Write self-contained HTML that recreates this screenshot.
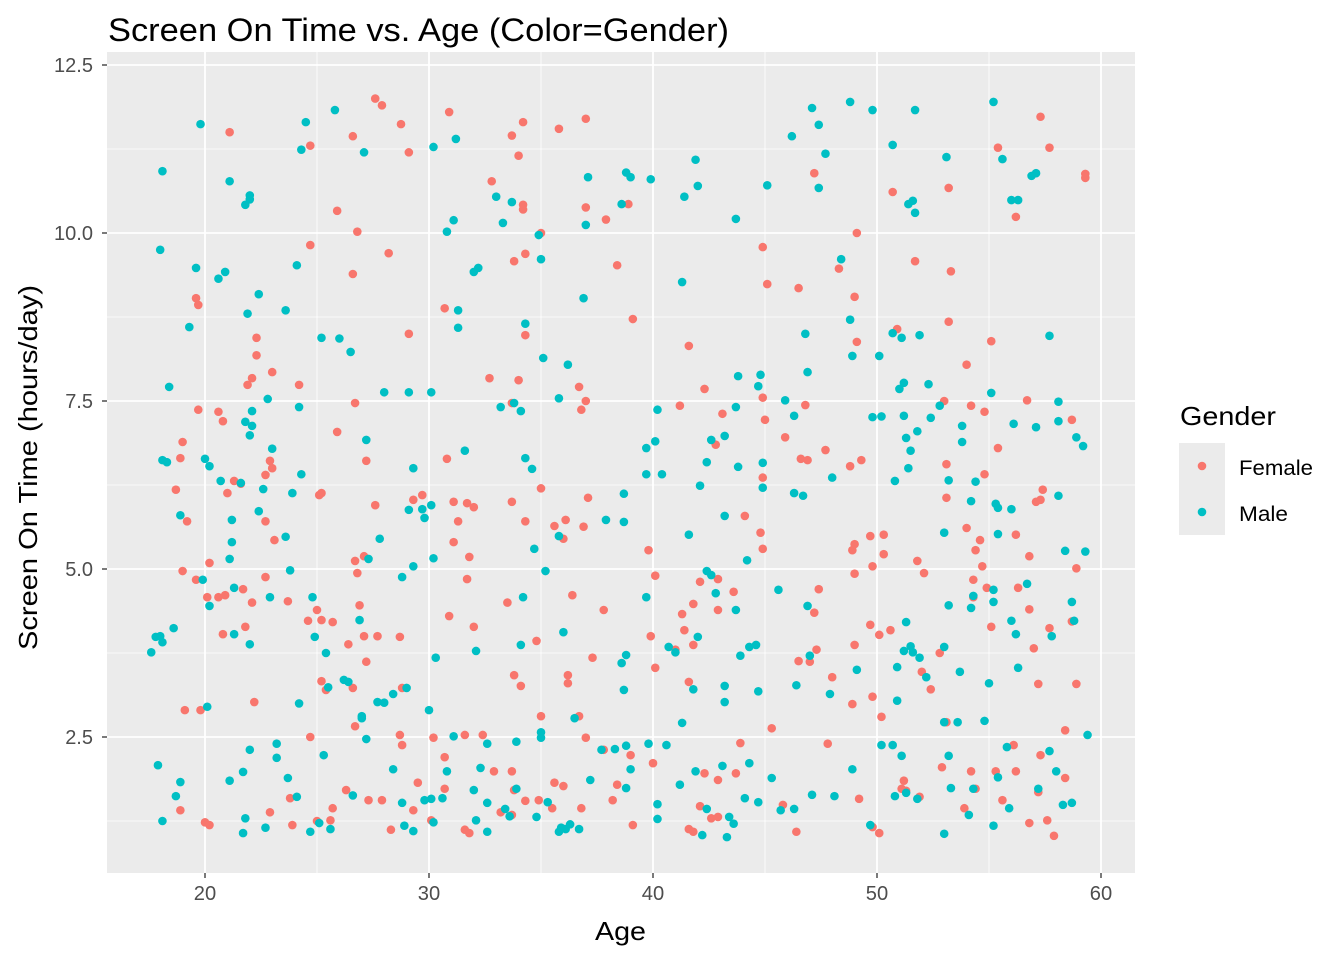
<!DOCTYPE html>
<html><head><meta charset="utf-8"><style>
html,body{margin:0;padding:0;background:#fff;}
svg{display:block;font-family:"Liberation Sans",Arial,sans-serif;}
</style></head><body>
<svg id="chart" width="1344" height="960" viewBox="0 0 1344 960" xmlns="http://www.w3.org/2000/svg">
<rect x="0" y="0" width="1344" height="960" fill="#fff"/>
<text x="108" y="41" font-size="32" textLength="621" lengthAdjust="spacingAndGlyphs" fill="#000">Screen On Time vs. Age (Color=Gender)</text>
<rect x="107" y="52" width="1028" height="821" fill="#EBEBEB"/>
<g id="grid"></g>
<g id="points"></g>
<g id="axes"></g>
<text x="595" y="940" font-size="26" textLength="51" lengthAdjust="spacingAndGlyphs" fill="#000">Age</text>
<text transform="translate(37,650) rotate(-90)" font-size="26" textLength="365" lengthAdjust="spacingAndGlyphs" fill="#000">Screen On Time (hours/day)</text>
<g>
<text x="1180" y="425" font-size="26" textLength="96" lengthAdjust="spacingAndGlyphs" fill="#000">Gender</text>
<rect x="1179" y="443" width="46" height="46" fill="#EBEBEB"/>
<rect x="1179" y="489" width="46" height="46" fill="#EBEBEB"/>
<circle cx="1202" cy="466" r="4.3" fill="#F8766D"/>
<circle cx="1202" cy="512" r="4.3" fill="#00BFC4"/>
<text x="1239" y="475" font-size="21" textLength="74" lengthAdjust="spacingAndGlyphs" fill="#000">Female</text>
<text x="1239" y="521" font-size="21" textLength="49" lengthAdjust="spacingAndGlyphs" fill="#000">Male</text>
</g>
</svg>
<script>
const xTicks=[20,30,40,50,60];
const yTicks=[2.5,5.0,7.5,10.0,12.5];
const xTickLabels=["20","30","40","50","60"];
const yTickLabels=["2.5","5.0","7.5","10.0","12.5"];
const femalePoints=[[27.6,12.0],[27.9,11.9],[28.75,11.62],[26.6,11.44],[29.1,11.2],[24.7,11.3],[21.1,11.5],[30.9,11.8],[34.2,11.65],[33.7,11.45],[34.0,11.15],[35.8,11.55],[37.0,11.7],[32.8,10.77],[34.2,10.42],[34.2,10.35],[25.9,10.33],[26.8,10.02],[37.0,10.38],[37.9,10.2],[38.9,10.43],[35.0,10.0],[34.3,9.69],[33.8,9.58],[28.2,9.7],[24.7,9.82],[26.6,9.39],[38.4,9.52],[19.6,9.03],[19.7,8.93],[30.7,8.88],[29.1,8.5],[34.3,8.48],[39.1,8.72],[22.3,8.44],[22.3,8.18],[22.1,7.84],[21.9,7.74],[23.0,7.93],[24.2,7.74],[32.7,7.84],[34.0,7.81],[33.7,7.47],[36.7,7.71],[37.0,7.5],[36.8,7.37],[26.7,7.47],[19.7,7.37],[20.6,7.34],[20.8,7.2],[19.0,6.89],[18.9,6.65],[25.9,7.04],[27.2,6.61],[22.9,6.61],[22.7,6.4],[23.0,6.5],[30.8,6.64],[29.3,6.03],[29.7,6.1],[27.6,5.95],[25.1,6.1],[25.2,6.13],[21.0,6.13],[21.3,6.31],[21.6,6.27],[18.7,6.18],[19.2,5.71],[31.1,6.0],[31.7,5.98],[32.0,5.92],[33.7,6.0],[35.0,6.2],[34.3,5.71],[35.6,5.64],[36.1,5.73],[36.0,5.45],[36.9,5.63],[37.1,6.06],[31.3,5.71],[31.1,5.4],[31.8,5.18],[22.7,5.71],[23.1,5.43],[20.6,4.58],[20.9,4.61],[20.2,5.09],[19.0,4.97],[19.6,4.84],[20.1,4.58],[21.7,4.7],[22.1,4.5],[21.8,4.14],[20.8,4.03],[22.7,4.88],[26.7,5.12],[27.1,5.19],[26.8,4.94],[26.9,4.46],[26.4,3.88],[25.0,4.39],[24.6,4.23],[25.2,4.24],[25.7,4.21],[23.7,4.52],[27.1,4.0],[27.7,4.0],[28.7,3.99],[27.2,3.62],[31.7,4.85],[32.0,4.14],[30.9,4.3],[34.8,3.93],[33.5,4.5],[34.1,3.26],[33.8,3.42],[36.4,4.61],[36.2,3.42],[36.2,3.3],[37.3,3.68],[37.8,4.39],[39.8,5.28],[40.1,4.9],[39.9,4.0],[40.1,3.53],[41.0,3.8],[41.3,4.33],[42.1,4.81],[41.8,4.48],[41.8,3.87],[41.4,4.09],[41.6,3.32],[42.9,4.39],[42.9,4.85],[41.6,8.32],[41.2,7.43],[42.3,7.68],[42.8,6.85],[43.1,7.31],[44.1,5.79],[43.6,4.66],[44.9,6.36],[44.9,5.3],[45.0,7.22],[44.9,7.55],[44.9,9.79],[45.1,9.24],[44.8,5.54],[45.9,6.96],[46.6,6.64],[46.8,7.44],[46.5,9.18],[47.2,10.89],[47.4,4.7],[47.2,4.35],[47.3,3.8],[47.0,3.62],[46.9,6.62],[47.7,6.77],[48.0,3.39],[48.3,9.47],[48.8,6.53],[49.0,9.05],[49.1,10.0],[49.3,6.62],[49.1,8.38],[48.9,5.28],[49.0,5.37],[49.0,4.93],[49.0,3.87],[48.9,2.99],[49.7,5.49],[49.8,5.04],[49.7,4.17],[50.1,4.02],[49.8,3.1],[50.2,2.8],[50.3,5.51],[50.3,5.22],[50.7,10.61],[50.9,8.57],[50.6,4.09],[51.7,9.58],[51.8,5.12],[52.1,4.94],[52.0,3.47],[53.2,10.67],[53.3,9.43],[53.2,8.68],[53.0,7.5],[53.1,6.56],[53.1,6.06],[52.8,3.75],[52.4,3.21],[53.1,2.72],[54.0,8.04],[54.0,5.61],[54.2,7.43],[54.4,5.28],[54.3,4.84],[54.3,4.58],[54.8,7.34],[54.8,6.41],[54.6,5.43],[54.7,5.04],[54.9,4.72],[55.1,8.39],[55.4,6.8],[55.1,4.14],[55.4,11.27],[56.2,10.24],[56.2,5.51],[56.7,7.51],[56.8,5.19],[56.8,4.4],[56.3,4.72],[57.0,3.82],[57.3,11.73],[57.7,11.27],[57.1,6.0],[57.3,6.03],[57.4,6.18],[57.2,3.29],[57.7,4.12],[58.9,5.01],[58.7,7.22],[59.3,10.88],[59.3,10.82],[58.9,3.29],[58.7,4.22],
[19.1,2.9],[19.8,2.9],[20.0,1.23],[20.2,1.19],[18.9,1.41],[22.2,3.02],[22.9,1.38],[23.8,1.59],[23.9,1.19],[24.7,2.5],[25.0,1.25],[25.2,3.33],[25.4,3.2],[25.6,1.26],[25.7,1.44],[26.3,1.71],[26.6,3.23],[26.7,2.66],[27.3,1.56],[27.9,1.56],[28.3,1.12],[28.7,2.53],[28.8,2.38],[28.8,3.23],[29.3,1.41],[29.5,1.82],[30.1,1.26],[30.2,2.49],[30.7,2.2],[30.7,1.73],[31.6,1.12],[31.8,1.07],[31.6,2.53],[32.4,2.53],[32.9,1.99],[33.2,1.38],[33.7,1.99],[33.7,1.34],[33.8,1.71],[34.3,1.55],[34.9,1.56],[35.0,2.81],[35.6,1.82],[36.0,1.77],[35.5,1.44],[36.8,1.44],[36.7,2.81],[37.0,2.49],[37.8,2.31],[38.2,1.56],[38.4,1.79],[39.0,2.23],[39.1,1.19],[40.0,2.11],[41.6,1.13],[41.8,1.09],[42.1,1.47],[42.3,1.96],[42.6,1.29],[42.9,1.86],[42.9,1.31],[43.7,1.96],[43.9,2.41],[45.3,2.63],[45.8,1.49],[46.4,1.09],[46.5,3.63],[47.8,2.4],[49.2,1.58],[49.8,1.16],[50.1,1.07],[51.2,1.85],[51.1,1.73],[51.3,1.7],[51.9,1.61],[52.9,2.05],[53.9,1.44],[54.2,1.99],[54.4,1.73],[55.3,1.99],[55.6,1.56],[56.2,1.99],[56.1,2.38],[56.8,1.22],[57.3,2.23],[57.2,1.68],[57.6,1.26],[57.9,1.03],[58.4,2.6],[58.4,1.89]];
const malePoints=[[19.8,11.62],[18.1,10.92],[24.5,11.65],[25.8,11.83],[27.1,11.2],[30.2,11.28],[31.2,11.4],[21.1,10.77],[22.0,10.56],[22.0,10.5],[21.8,10.42],[24.3,11.24],[18.0,9.75],[19.6,9.48],[20.9,9.42],[20.6,9.32],[22.4,9.09],[24.1,9.52],[21.9,8.8],[19.3,8.6],[23.6,8.85],[25.2,8.44],[26.0,8.43],[26.5,8.23],[31.3,8.85],[31.3,8.59],[30.8,10.02],[31.1,10.19],[32.0,9.42],[32.2,9.48],[33.0,10.54],[33.3,10.15],[33.7,10.46],[34.9,9.97],[35.0,9.61],[34.3,8.65],[35.1,8.14],[37.0,10.12],[37.1,10.83],[36.9,9.03],[38.6,10.43],[38.8,10.9],[39.0,10.83],[39.9,10.8],[41.9,11.09],[41.4,10.54],[42.0,10.7],[41.3,9.27],[43.7,10.21],[45.1,10.71],[46.2,11.44],[47.1,11.86],[47.4,11.61],[47.4,10.67],[47.7,11.18],[48.4,9.61],[48.8,11.95],[49.8,11.83],[50.7,11.31],[51.7,11.83],[51.4,10.43],[51.6,10.48],[51.7,10.3],[53.1,11.13],[55.2,11.95],[55.6,11.1],[56.0,10.49],[56.3,10.49],[56.9,10.85],[57.1,10.89],[57.7,8.47],[48.8,8.71],[48.9,8.17],[50.1,8.17],[46.8,8.5],[46.9,7.93],[50.7,8.51],[51.1,8.44],[51.9,8.48],[18.4,7.71],[18.1,6.62],[18.3,6.59],[18.9,5.8],[20.0,6.64],[20.2,6.53],[20.7,6.31],[21.2,5.73],[21.6,6.28],[21.8,7.19],[22.1,7.35],[22.0,6.99],[22.1,7.13],[22.4,5.86],[22.8,7.53],[23.0,6.79],[22.6,6.19],[23.6,5.48],[24.3,6.41],[23.9,6.13],[24.2,7.41],[27.2,6.92],[28.0,7.63],[29.1,7.63],[30.1,7.63],[29.3,6.5],[29.1,5.88],[29.7,5.89],[29.8,5.76],[30.1,5.95],[27.8,5.45],[27.3,5.15],[29.3,5.04],[28.8,4.88],[30.2,5.16],[31.6,6.76],[33.2,7.41],[33.8,7.47],[34.1,7.35],[34.3,6.65],[34.6,6.49],[34.7,5.3],[35.2,4.97],[36.2,8.04],[35.8,7.54],[35.8,5.49],[37.9,5.73],[38.7,5.7],[39.7,6.8],[40.1,6.9],[40.2,7.37],[39.7,6.41],[40.4,6.41],[38.7,6.12],[41.6,5.51],[42.1,6.24],[42.4,6.59],[42.6,6.92],[43.2,6.98],[43.2,5.79],[43.7,7.41],[43.8,7.87],[43.8,6.52],[44.8,7.89],[44.7,7.72],[44.9,6.58],[44.9,6.21],[45.9,7.51],[46.3,7.28],[46.3,6.13],[46.7,6.09],[48.0,6.36],[49.8,7.26],[50.2,7.27],[50.8,6.31],[51.0,7.68],[51.2,7.77],[51.2,7.28],[51.3,6.95],[51.4,6.5],[51.5,6.76],[51.8,7.05],[52.3,7.75],[52.4,7.25],[52.8,7.43],[53.2,6.32],[53.8,7.13],[53.8,6.89],[54.2,6.01],[54.4,6.3],[55.3,5.97],[55.4,5.91],[55.4,5.52],[55.1,7.62],[56.1,7.16],[56.0,5.89],[57.1,7.11],[58.1,7.49],[58.1,7.2],[58.1,6.09],[58.9,6.96],[59.2,6.83],[59.3,5.26],
[17.6,3.76],[17.8,3.99],[18.0,4.0],[18.1,3.91],[18.6,4.12],[19.9,4.84],[20.2,4.45],[21.1,5.15],[21.2,5.4],[21.3,4.72],[21.3,4.03],[22.0,3.88],[22.9,4.58],[23.8,4.98],[24.8,4.58],[24.9,3.99],[25.4,3.75],[26.2,3.35],[26.4,3.32],[26.9,4.24],[27.0,2.78],[27.7,3.02],[28.0,3.01],[28.4,3.14],[29.0,3.23],[30.3,3.68],[32.1,3.78],[34.1,3.87],[34.2,4.58],[36.0,4.06],[36.5,2.78],[38.8,3.72],[38.7,3.2],[38.6,3.6],[39.7,4.58],[40.7,3.84],[41.0,3.76],[41.8,3.21],[42.0,3.99],[42.4,4.97],[42.6,4.91],[42.8,4.64],[43.2,3.26],[43.2,3.02],[43.7,4.39],[43.9,3.71],[44.2,5.13],[44.3,3.84],[44.6,3.87],[44.7,3.18],[45.6,4.69],[46.4,3.27],[46.9,4.45],[47.0,3.71],[47.9,3.14],[49.1,3.5],[50.9,3.54],[50.9,3.04],[51.2,3.78],[51.3,4.21],[51.5,3.85],[51.6,3.76],[51.9,3.68],[52.2,3.39],[53.0,5.54],[53.0,3.84],[53.0,2.72],[53.2,4.46],[53.7,3.47],[53.6,2.72],[54.2,4.42],[54.3,4.6],[54.8,2.74],[55.0,3.3],[55.2,4.69],[55.2,4.51],[56.0,4.23],[56.2,4.03],[56.3,3.53],[56.7,4.78],[57.8,4.0],[58.4,5.27],[58.7,4.51],[58.8,4.23],[59.4,2.53],
[17.9,2.08],[18.1,1.25],[18.7,1.62],[18.9,1.83],[20.1,2.95],[21.1,1.85],[21.7,1.98],[21.7,1.07],[21.8,1.29],[22.0,2.31],[22.7,1.15],[23.2,2.4],[23.2,2.19],[23.7,1.89],[24.1,1.61],[24.2,3.0],[24.7,1.09],[25.1,1.22],[25.3,2.23],[25.5,3.24],[25.6,1.13],[26.6,1.63],[27.0,2.81],[27.2,2.47],[28.4,2.02],[28.8,1.52],[28.9,1.18],[29.3,1.1],[30.0,2.9],[29.8,1.56],[30.1,1.58],[30.2,1.23],[30.6,1.59],[30.8,1.99],[31.1,2.51],[32.0,1.71],[32.1,1.26],[32.3,2.04],[32.6,1.52],[32.6,2.4],[32.6,1.09],[33.4,1.43],[33.6,1.32],[33.9,2.43],[33.9,1.73],[34.8,1.31],[35.0,2.49],[35.0,2.57],[35.3,1.53],[35.8,1.09],[35.9,1.15],[36.1,1.13],[36.3,1.2],[36.7,1.13],[37.2,1.86],[37.7,2.31],[38.3,2.32],[38.8,2.37],[38.8,1.74],[39.0,2.02],[39.8,2.4],[40.2,1.28],[40.2,1.5],[40.6,2.38],[41.2,1.79],[41.3,2.71],[41.9,1.99],[42.2,1.04],[42.4,1.43],[43.1,2.07],[43.3,1.01],[43.4,1.31],[43.6,1.21],[44.1,1.59],[44.3,2.11],[44.7,1.53],[45.3,1.89],[45.7,1.41],[46.3,1.43],[47.1,1.64],[48.1,1.62],[48.9,2.02],[49.7,1.19],[50.2,2.38],[50.7,2.38],[50.8,1.62],[51.1,2.22],[51.3,1.67],[51.8,1.58],[53.2,2.22],[53.0,1.06],[53.3,1.74],[54.1,1.34],[54.3,1.73],[55.2,1.18],[55.4,1.9],[55.8,2.35],[55.9,1.44],[57.2,1.73],[57.7,2.29],[58.0,1.99],[58.3,1.49],[58.7,1.52]];

const NS="http://www.w3.org/2000/svg";
const X0=107,X1=1135,Y0=52,Y1=873;
function xScale(a){return 205+(a-20)*22.4;}
function yScale(v){return 737-(v-2.5)*67.2;}
function mk(tag,attrs,parent){const e=document.createElementNS(NS,tag);for(const k in attrs)e.setAttribute(k,attrs[k]);parent.appendChild(e);return e;}
const grid=document.getElementById('grid');
const axes=document.getElementById('axes');
const pts=document.getElementById('points');
for(let i=0;i<xTicks.length+1;i++){
  const a=(i===0?xTicks[0]-5:xTicks[i-1]+5);
  const x=xScale(a);
  if(x>X0&&x<X1){const l=mk('line',{x1:x,x2:x,y1:Y0,y2:Y1,stroke:'#fff','stroke-width':0.8},grid);
  
  }
}
for(let i=0;i<yTicks.length+1;i++){
  const v=(i===0?yTicks[0]-1.25:yTicks[i-1]+1.25);
  const y=yScale(v);
  if(y>Y0&&y<Y1){const l=mk('line',{x1:X0,x2:X1,y1:y,y2:y,stroke:'#fff','stroke-width':0.8},grid);
  
  }
}
xTicks.forEach((t,i)=>{
  const x=xScale(t);
  const l=mk('line',{x1:x,x2:x,y1:Y0,y2:Y1,stroke:'#fff','stroke-width':1.8},grid);
  
  
  mk('line',{x1:x,x2:x,y1:Y1,y2:Y1+5,stroke:'#333','stroke-width':1.3},axes);
  const lab=xTickLabels[i];
  const tx=mk('text',{x:x-lab.length*5.6,y:Y1+27,'font-size':20,textLength:lab.length*11.2,lengthAdjust:'spacingAndGlyphs',fill:'#4D4D4D'},axes);
  tx.textContent=lab;
  
  
});
yTicks.forEach((t,i)=>{
  const y=yScale(t);
  const l=mk('line',{x1:X0,x2:X1,y1:y,y2:y,stroke:'#fff','stroke-width':1.8},grid);
  
  
  mk('line',{x1:X0-5,x2:X0,y1:y,y2:y,stroke:'#333','stroke-width':1.3},axes);
  const lab=yTickLabels[i];
  const w=(lab.length-1)*11.2+5.4;
  const tx=mk('text',{x:X0-14-w,y:y+7,'font-size':20,textLength:w,lengthAdjust:'spacingAndGlyphs',fill:'#4D4D4D'},axes);
  tx.textContent=lab;
  
  
});
function drawSeries(data,color,name){
  data.forEach(p=>{
    const c=mk('circle',{cx:xScale(p[0]),cy:yScale(p[1]),r:4.3,fill:color},pts);
    
    
  });
}
drawSeries(femalePoints,'#F8766D','female-point');
drawSeries(malePoints,'#00BFC4','male-point');
</script>
</body></html>
